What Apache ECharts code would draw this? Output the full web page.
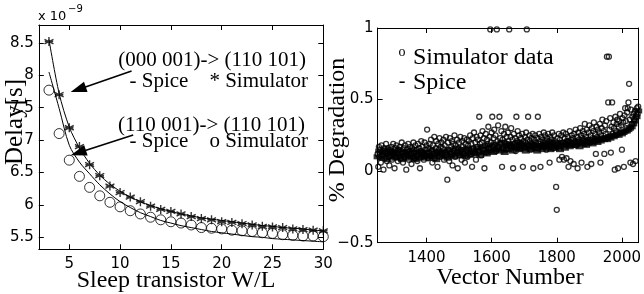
<!DOCTYPE html>
<html>
<head>
<meta charset="utf-8">
<script src="https://cdn.jsdelivr.net/npm/echarts@6/dist/echarts.min.js"></script>
<style>
html, body { margin: 0; padding: 0; background: #fff; }
#main { width: 644px; height: 294px; }
</style>
</head>
<body>
<div id="main"></div>
<script>
// left panel: delay (x 1e-9 s) vs sleep transistor W/L
var wlList = [3,4,5,6,7,8,9,10,11,12,13,14,15,16,17,18,19,20,21,22,23,24,25,26,27,28,29,30]
// (000 001)-> (110 101)
var spiceA = [8.55,7.72,7.20,6.88,6.64,6.46,6.32,6.21,6.12,6.05,5.99,5.94,5.90,5.86,5.83,5.80,5.78,5.76,5.74,5.72,5.70,5.68,5.67,5.65,5.64,5.63,5.61,5.60]
var simA = [8.52,7.70,7.19,6.90,6.62,6.45,6.29,6.19,6.12,6.05,5.98,5.93,5.90,5.86,5.82,5.79,5.77,5.74,5.73,5.71,5.69,5.67,5.66,5.65,5.63,5.62,5.61,5.60]
// (110 001)-> (110 101)
var spiceB = [8.05,7.49,6.92,6.66,6.48,6.31,6.17,6.05,5.96,5.88,5.82,5.76,5.72,5.68,5.65,5.62,5.59,5.57,5.55,5.53,5.51,5.50,5.48,5.47,5.46,5.45,5.44,5.43]
var simB = [7.77,7.10,6.69,6.44,6.27,6.14,6.04,5.97,5.91,5.86,5.81,5.77,5.74,5.72,5.69,5.65,5.64,5.63,5.61,5.60,5.59,5.57,5.56,5.54,5.53,5.52,5.52,5.51]

var leftXTicks = [5,10,15,20,25,30]
var leftYTicks = [5.5,6,6.5,7,7.5,8,8.5]

// right panel: % degradation vs vector number
var vecStart = 1250
var simStep = 2
var spiceStep = 5
var degSim = [
  0.12,0.03,0.17,0.10,0.15,0.06,0.18,0.11,0.14,0.01,0.16,0.09,0.13,0.19,0.07,0.12,0.16,0.10,0.04,0.15,
  0.11,0.17,0.08,0.14,0.19,0.12,0.02,0.16,0.10,0.18,0.13,0.07,0.15,0.11,0.17,0.09,0.14,0.20,0.12,0.06,
  0.16,0.10,0.18,0.13,0.01,0.15,0.11,0.19,0.08,0.14,0.17,0.12,0.05,0.16,0.10,0.20,0.13,0.09,0.18,0.11,
  0.15,0.07,0.19,0.12,0.16,0.02,0.14,0.21,0.10,0.17,0.13,0.08,0.20,0.15,0.11,0.18,0.29,0.09,0.16,0.13,
  0.19,0.11,0.22,0.14,0.06,0.18,0.12,0.24,0.09,0.16,0.21,0.13,0.03,0.19,0.15,0.23,0.10,0.17,0.20,0.12,
  0.16,0.22,0.08,0.18,0.13,0.24,0.11,-0.06,0.20,0.15,0.07,0.23,0.12,0.17,0.21,0.04,0.19,0.14,0.25,0.10,
  0.18,0.13,0.22,0.02,0.16,0.20,0.11,0.24,0.15,0.08,0.21,0.17,0.12,0.23,0.06,0.19,0.14,0.22,0.10,0.18,
  0.21,0.15,0.25,0.12,0.19,0.03,0.23,0.16,0.27,0.13,0.20,0.08,0.24,0.17,0.22,0.14,0.38,0.19,0.25,0.11,
  0.20,0.28,0.15,0.23,0.02,0.18,0.26,0.13,0.22,0.19,0.31,0.16,0.24,0.99,0.20,0.27,0.38,0.17,0.23,0.29,
  0.18,0.25,0.14,0.99,0.21,0.32,0.17,0.38,0.23,0.19,0.28,0.03,0.22,0.16,0.26,0.20,0.31,0.15,0.24,0.19,
  0.27,0.21,0.99,0.18,0.24,0.30,0.17,0.22,0.02,0.26,0.19,0.23,0.14,0.38,0.21,0.28,0.18,0.25,0.20,0.16,
  0.23,0.19,0.26,0.03,0.21,0.17,0.24,0.20,0.27,0.99,0.22,0.38,0.18,0.25,0.21,0.15,0.23,0.19,0.26,0.02,
  0.22,0.18,0.25,0.20,0.16,0.23,0.38,0.19,0.26,0.21,0.03,0.24,0.17,0.22,0.20,0.27,0.18,0.25,0.21,0.15,
  0.23,0.19,0.26,0.21,0.06,0.24,0.18,0.22,0.27,0.20,0.16,0.25,0.21,0.18,-0.11,-0.27,0.23,0.19,0.26,0.08,
  0.22,0.18,0.25,0.10,0.20,0.27,0.08,0.23,0.19,0.26,0.09,0.21,0.24,0.03,0.20,0.28,0.07,0.22,0.25,0.19,
  0.23,0.05,0.26,0.21,0.29,0.18,0.24,0.02,0.27,0.22,0.20,0.30,0.25,0.06,0.23,0.28,0.21,0.26,0.33,0.19,
  0.24,0.29,0.03,0.22,0.27,0.32,0.20,0.25,0.05,0.30,0.23,0.28,0.34,0.21,0.26,0.12,0.31,0.24,0.29,0.22,
  0.27,0.33,0.06,0.25,0.30,0.36,0.23,0.28,0.12,0.32,0.26,0.35,0.80,0.24,0.48,0.80,0.29,0.37,0.13,0.31,
  0.48,0.26,0.34,0.30,0.01,0.38,0.28,0.33,0.36,0.02,0.31,0.35,0.40,0.27,0.32,0.15,0.37,0.34,0.03,0.39,
  0.44,0.35,0.30,0.41,0.44,0.48,0.61,0.36,0.06,0.43,0.33,0.38,0.05,0.40,0.36,0.42,0.07,0.38,0.44,0.40,
  0.45
]
var degSpice = [
  0.10,0.14,0.09,0.13,0.11,0.15,0.08,0.12,0.14,0.10,
  0.13,0.09,0.12,0.15,0.10,0.08,0.13,0.11,0.14,0.09,
  0.12,0.10,0.15,0.08,0.13,0.11,0.09,0.14,0.12,0.10,
  0.13,0.09,0.11,0.15,0.10,0.12,0.08,0.14,0.11,0.13,
  0.10,0.14,0.12,0.09,0.15,0.11,0.13,0.10,0.16,0.12,
  0.14,0.11,0.15,0.12,0.10,0.16,0.13,0.11,0.15,0.13,
  0.12,0.16,0.14,0.11,0.17,0.13,0.15,0.12,0.18,0.14,
  0.16,0.13,0.19,0.15,0.17,0.14,0.20,0.16,0.13,0.18,
  0.15,0.19,0.17,0.14,0.18,0.16,0.20,0.15,0.17,0.19,
  0.16,0.14,0.18,0.17,0.15,0.19,0.16,0.18,0.14,0.17,
  0.18,0.15,0.17,0.19,0.16,0.18,0.15,0.20,0.17,0.16,
  0.19,0.17,0.15,0.20,0.18,0.16,0.19,0.21,0.17,0.18,
  0.20,0.18,0.19,0.21,0.17,0.20,0.19,0.22,0.18,0.21,
  0.20,0.22,0.19,0.21,0.23,0.20,0.22,0.21,0.23,0.22,
  0.23,0.22,0.24,0.23,0.25,0.24,0.25,0.26,0.25,0.27,
  0.26,0.27,0.28,0.28,0.29,0.30,0.31,0.33,0.35,0.38,
  0.42
]
var rightXTicks = [1400,1600,1800,2000]

function pairs(xs, ys){
  var out = []
  for (var i = 0; i < ys.length; i++) out.push([xs[i], ys[i]])
  return out
}
function stepPairs(start, step, ys){
  var out = []
  for (var i = 0; i < ys.length; i++) out.push([start + i * step, ys[i]])
  return out
}

var tickFont = { color: '#000', fontSize: 15, fontFamily: 'DejaVu Sans' }
var serif = '"Liberation Serif", "Times New Roman", serif'
var axLine = { show: true, onZero: false, lineStyle: { color: '#000', width: 1 } }

function boxAxis(extra){
  var base = {
    type: 'value',
    axisLine: axLine,
    splitLine: { show: false },
    axisTick: { show: true, inside: true, length: 5, lineStyle: { color: '#000' } },
    axisLabel: Object.assign({ show: true, margin: 6 }, tickFont)
  }
  return Object.assign(base, extra)
}
function plain(v){ return String(v) }

var asterisk = 'path://M5,0L5,10M0.7,2.5L9.3,7.5M0.7,7.5L9.3,2.5M1,5L9,5'

var myChart = echarts.init(document.getElementById('main'))

myChart.setOption({
  animation: false,
  backgroundColor: '#fff',
  grid: [
    { left: 38.8, top: 25, width: 284.5, height: 224.3 },
    { left: 377.6, top: 28, width: 264, height: 214.7 }
  ],
  xAxis: [
    boxAxis({ gridIndex: 0, position: 'bottom', min: 2, max: 30,
      axisTick: { inside: true, length: 5, customValues: leftXTicks, lineStyle: { color: '#000' } },
      axisLabel: Object.assign({ margin: 7, customValues: leftXTicks, formatter: plain }, tickFont) }),
    boxAxis({ gridIndex: 0, position: 'top', min: 2, max: 30,
      axisTick: { inside: true, length: 5, customValues: leftXTicks, lineStyle: { color: '#000' } },
      axisLabel: { show: false } }),
    boxAxis({ gridIndex: 1, position: 'bottom', min: 1250, max: 2050,
      axisTick: { inside: true, length: 5, customValues: rightXTicks, lineStyle: { color: '#000' } },
      axisLabel: Object.assign({ margin: 8, customValues: rightXTicks, formatter: plain }, tickFont) }),
    boxAxis({ gridIndex: 1, position: 'top', min: 1250, max: 2050,
      axisTick: { inside: true, length: 5, customValues: rightXTicks, lineStyle: { color: '#000' } },
      axisLabel: { show: false } })
  ],
  yAxis: [
    boxAxis({ gridIndex: 0, position: 'left', min: 5.315, max: 8.775,
      axisTick: { inside: true, length: 5, customValues: leftYTicks, lineStyle: { color: '#000' } },
      axisLabel: Object.assign({ margin: 5, customValues: leftYTicks, formatter: plain }, tickFont) }),
    boxAxis({ gridIndex: 0, position: 'right', min: 5.315, max: 8.775,
      axisTick: { inside: true, length: 5, customValues: leftYTicks, lineStyle: { color: '#000' } },
      axisLabel: { show: false } }),
    boxAxis({ gridIndex: 1, position: 'left', min: -0.5, max: 1, interval: 0.5,
      axisLabel: Object.assign({ margin: 4, formatter: function(v){ return v < 0 ? '\u2212' + Math.abs(v) : String(v) } }, tickFont) }),
    boxAxis({ gridIndex: 1, position: 'right', min: -0.5, max: 1, interval: 0.5,
      axisLabel: { show: false } })
  ],
  series: [
    { name: 'spiceA', type: 'line', xAxisIndex: 0, yAxisIndex: 0, data: pairs(wlList, spiceA),
      showSymbol: false, smooth: 0.3, lineStyle: { color: '#000', width: 1 },
      markLine: {
        silent: true, symbol: ['none', 'triangle'], symbolSize: [11, 16],
        label: { show: false },
        lineStyle: { color: '#000', width: 1.6, type: 'solid' },
        data: [
          [{ coord: [11.13, 8.064] }, { coord: [5.88, 7.78] }],
          [{ coord: [11.29, 7.077] }, { coord: [5.89, 6.803] }]
        ]
      } },
    { name: 'spiceB', type: 'line', xAxisIndex: 0, yAxisIndex: 0, data: pairs(wlList, spiceB),
      showSymbol: false, smooth: 0.3, lineStyle: { color: '#000', width: 1 } },
    { name: 'simA', type: 'scatter', xAxisIndex: 0, yAxisIndex: 0, data: pairs(wlList, simA),
      symbol: asterisk, symbolSize: 9,
      itemStyle: { color: 'transparent', borderColor: '#000', borderWidth: 1.4 } },
    { name: 'simB', type: 'scatter', xAxisIndex: 0, yAxisIndex: 0, data: pairs(wlList, simB),
      symbol: 'circle', symbolSize: 10,
      itemStyle: { color: 'transparent', borderColor: '#000', borderWidth: 1 } },
    { name: 'Simulator data', type: 'scatter', xAxisIndex: 2, yAxisIndex: 2,
      data: stepPairs(vecStart, simStep, degSim), symbol: 'circle', symbolSize: 5,
      itemStyle: { color: 'transparent', borderColor: '#000', borderWidth: 1.3 } },
    { name: 'Spice', type: 'scatter', xAxisIndex: 2, yAxisIndex: 2,
      data: stepPairs(vecStart, spiceStep, degSpice), symbol: 'rect', symbolSize: [8, 5],
      itemStyle: { color: '#000' } }
  ],
  graphic: [
    { type: 'text', x: 38, y: 17, style: { text: 'x 10', font: '13px "DejaVu Sans"', fill: '#000', verticalAlign: 'middle' } },
    { type: 'text', x: 68, y: 9, style: { text: '\u22129', font: '10px "DejaVu Sans"', fill: '#000', verticalAlign: 'middle' } },
    { type: 'text', x: 15, y: 122, rotation: Math.PI / 2,
      style: { text: 'Delay[s]', font: '25px ' + serif, fill: '#000', align: 'center', verticalAlign: 'middle' } },
    { type: 'text', x: 176, y: 281,
      style: { text: 'Sleep transistor W/L', font: '24px ' + serif, fill: '#000', align: 'center', verticalAlign: 'middle' } },
    { type: 'text', x: 306, y: 60,
      style: { text: '(000 001)-> (110 101)', font: '21px ' + serif, fill: '#000', align: 'right', verticalAlign: 'middle' } },
    { type: 'text', x: 308, y: 81,
      style: { text: '- Spice    * Simulator', font: '21px ' + serif, fill: '#000', align: 'right', verticalAlign: 'middle' } },
    { type: 'text', x: 305, y: 125,
      style: { text: '(110 001)-> (110 101)', font: '21px ' + serif, fill: '#000', align: 'right', verticalAlign: 'middle' } },
    { type: 'text', x: 308, y: 141,
      style: { text: '- Spice    o Simulator', font: '21px ' + serif, fill: '#000', align: 'right', verticalAlign: 'middle' } },
    { type: 'text', x: 338, y: 130, rotation: Math.PI / 2,
      style: { text: '% Degradation', font: '24px ' + serif, fill: '#000', align: 'center', verticalAlign: 'middle' } },
    { type: 'text', x: 510, y: 278,
      style: { text: 'Vector Number', font: '24px ' + serif, fill: '#000', align: 'center', verticalAlign: 'middle' } },
    { type: 'text', x: 402, y: 52,
      style: { text: 'o', font: '14px ' + serif, fill: '#000', align: 'center', verticalAlign: 'middle' } },
    { type: 'text', x: 413, y: 58,
      style: { text: 'Simulator data', font: '24px ' + serif, fill: '#000', verticalAlign: 'middle' } },
    { type: 'text', x: 402, y: 82,
      style: { text: '-', font: '20px ' + serif, fill: '#000', align: 'center', verticalAlign: 'middle' } },
    { type: 'text', x: 413, y: 83,
      style: { text: 'Spice', font: '24px ' + serif, fill: '#000', verticalAlign: 'middle' } }
  ]
})
</script>
</body>
</html>
